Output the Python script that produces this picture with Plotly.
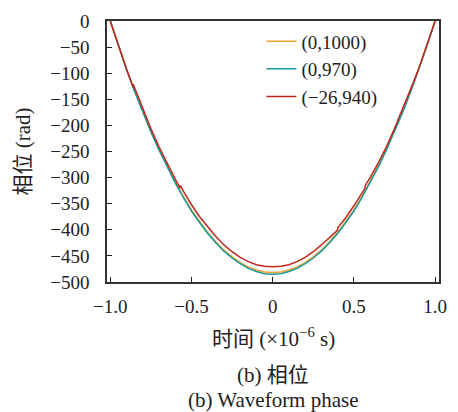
import plotly.graph_objects as go

t_ref = [-1.00, -0.95, -0.90, -0.85, -0.80, -0.75, -0.70, -0.65, -0.60, -0.55, -0.50,
         -0.45, -0.40, -0.35, -0.30, -0.25, -0.20, -0.15, -0.10, -0.05, 0.00,
         0.05, 0.10, 0.15, 0.20, 0.25, 0.30, 0.35, 0.40, 0.45, 0.50,
         0.55, 0.60, 0.65, 0.70, 0.75, 0.80, 0.85, 0.90, 0.95, 1.00]
phase_1000 = [0, -47, -92, -134, -174, -211, -246, -278, -308, -336, -362,
              -384, -405, -423, -439, -452, -463, -471, -477, -481, -482,
              -481, -477, -471, -463, -452, -439, -423, -405, -384, -362,
              -336, -308, -278, -246, -211, -174, -134, -92, -47, 0]
phase_970 = [0, -47, -93, -135, -175, -212, -247, -280, -310, -338, -364,
             -386, -407, -425, -441, -454, -465, -474, -480, -484, -485,
             -484, -480, -474, -465, -454, -441, -425, -407, -386, -364,
             -338, -310, -280, -247, -212, -175, -135, -93, -47, 0]

t_red = [-1.00, -0.95, -0.90, -0.86, -0.859, -0.85, -0.80, -0.75, -0.70, -0.65, -0.60,
         -0.57, -0.569, -0.55, -0.50, -0.45, -0.40, -0.35, -0.30, -0.25, -0.20,
         -0.15, -0.10, -0.05, 0.00, 0.05, 0.10, 0.15, 0.20, 0.25, 0.30,
         0.35, 0.399, 0.40, 0.45, 0.50, 0.55, 0.569, 0.57, 0.60, 0.65,
         0.70, 0.75, 0.80, 0.85, 0.90, 0.95, 1.00]
phase_red = [0, -47, -92, -126, -121, -128, -168, -206, -241, -273, -303,
             -320, -315, -326, -352, -375, -395, -413, -429, -442, -453,
             -461, -467, -470, -471, -470, -467, -461, -453, -442, -429,
             -415, -401, -396, -377, -354, -329, -320, -315, -300, -272,
             -241, -206, -169, -130, -91, -47, 0]

series_names = ["(0,1000)", "(0,970)", "(\u221226,940)"]
colors = ["#f0a22e", "#17999a", "#c0261d"]

x_ticks = [-1.0, -0.5, 0, 0.5, 1.0]
x_ticktext = ["\u22121.0", "\u22120.5", "0", "0.5", "1.0"]
y_ticks = [0, -50, -100, -150, -200, -250, -300, -350, -400, -450, -500]

serif = "Liberation Serif, Noto Sans CJK SC, serif"

fig = go.Figure()
fig.add_trace(go.Scatter(x=t_ref, y=phase_1000, mode="lines", name=series_names[0],
                         line=dict(color=colors[0], width=1.5)))
fig.add_trace(go.Scatter(x=t_ref, y=phase_970, mode="lines", name=series_names[1],
                         line=dict(color=colors[1], width=1.5)))
fig.add_trace(go.Scatter(x=t_red, y=phase_red, mode="lines", name=series_names[2],
                         line=dict(color=colors[2], width=1.5)))

fig.update_layout(
    width=458, height=412,
    margin=dict(l=107, r=11, t=17, b=130),
    paper_bgcolor="white", plot_bgcolor="white",
    font=dict(family=serif, size=19, color="#222"),
    showlegend=True,
    legend=dict(x=0.465, y=0.995, xanchor="left", yanchor="top",
                bgcolor="rgba(0,0,0,0)", font=dict(size=19, family=serif),
                itemwidth=30, tracegroupgap=0),
    xaxis=dict(range=[-1.02, 1.024], tickvals=x_ticks, ticktext=x_ticktext,
               ticks="inside", ticklen=5, tickwidth=1, tickcolor="#222",
               ticklabelstandoff=6,
               showline=True, linecolor="#333", linewidth=1.5, mirror=True,
               showgrid=False, zeroline=False),
    yaxis=dict(range=[-500, 0], tickvals=y_ticks,
               ticks="inside", ticklen=5, tickwidth=1, tickcolor="#222",
               ticklabelstandoff=12,
               showline=True, linecolor="#333", linewidth=1.5, mirror=True,
               showgrid=False, zeroline=False),
    annotations=[
        dict(text="时间 (×10<sup>\u22126</sup> s)", x=0.5, y=-0.211, xref="paper", yref="paper",
             showarrow=False, font=dict(size=21, family=serif), xanchor="center", yanchor="middle"),
        dict(text="(b) 相位", x=0.5, y=-0.358, xref="paper", yref="paper",
             showarrow=False, font=dict(size=21, family=serif), xanchor="center", yanchor="middle"),
        dict(text="(b) Waveform phase", x=0.5, y=-0.453, xref="paper", yref="paper",
             showarrow=False, font=dict(size=21, family=serif), xanchor="center", yanchor="middle"),
        dict(text="相位 (rad)", x=-0.256, y=0.5, xref="paper", yref="paper", textangle=-90,
             showarrow=False, font=dict(size=21, family=serif), xanchor="center", yanchor="middle"),
    ],
)

fig.write_html("out.html")
